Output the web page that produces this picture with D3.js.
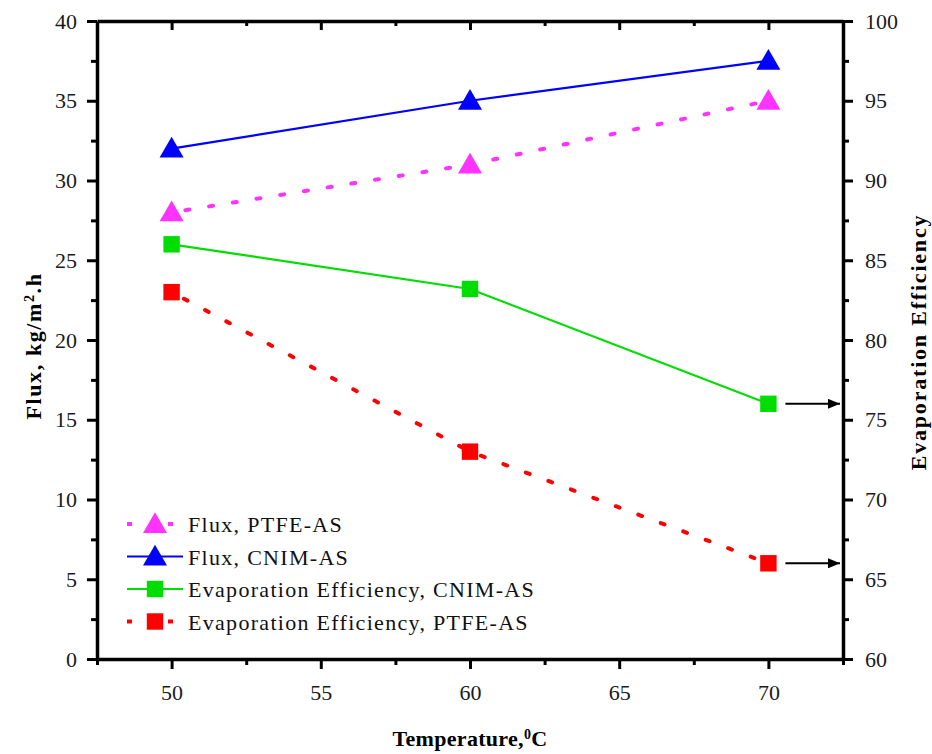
<!DOCTYPE html>
<html>
<head>
<meta charset="utf-8">
<script src="https://cdn.jsdelivr.net/npm/d3@7"></script>
<style>
  body { margin: 0; background: #fff; }
  text { font-family: "Liberation Serif", "Times New Roman", serif; }
</style>
</head>
<body>
<div id="chart"></div>
<script>
// Chart data
const temps = [50, 60, 70];
const fluxPTFE = [28, 31, 35];
const fluxCNIM = [32, 35, 37.5];
const effCNIM = [86, 83.2, 76];
const effPTFE = [83, 73, 66];

const xTicks = [50, 55, 60, 65, 70];
const yLeftTicks = [0, 5, 10, 15, 20, 25, 30, 35, 40];
const yRightTicks = [60, 65, 70, 75, 80, 85, 90, 95, 100];

const width = 932, height = 754;
const margin = { top: 21, right: 89, bottom: 95, left: 97 };
const serif = '"Liberation Serif", "Times New Roman", serif';

const svg = d3.select("#chart").append("svg")
  .attr("width", width)
  .attr("height", height);

const x = d3.scaleLinear().domain([47.5, 72.5]).range([margin.left, width - margin.right]);
const yL = d3.scaleLinear().domain([0, 40]).range([height - margin.bottom, margin.top]);
const yR = d3.scaleLinear().domain([60, 100]).range([height - margin.bottom, margin.top]);

// Axes
function styleAxis(g) {
  g.attr("font-family", serif);
  g.selectAll("path").attr("stroke-width", 3.5);
  g.selectAll("line").attr("stroke-width", 3);
  g.selectAll("text").attr("font-size", 22).attr("fill", "#1a1a1a").attr("font-family", serif);
}

const minorX = [47.5, 52.5, 57.5, 62.5, 67.5, 72.5];
const minorY = d3.range(2.5, 40, 5);
const minorYR = d3.range(62.5, 100, 5);

// bottom
svg.append("g").attr("transform", `translate(0,${yL(0)})`)
  .call(d3.axisBottom(x).tickValues(xTicks).tickSize(10).tickPadding(15).tickSizeOuter(0))
  .call(styleAxis);
svg.append("g").attr("transform", `translate(0,${yL(0)})`)
  .call(d3.axisBottom(x).tickValues(minorX).tickSize(6).tickFormat("").tickSizeOuter(0))
  .call(styleAxis).select("path").remove();

// top (ticks pointing inward)
svg.append("g").attr("transform", `translate(0,${yL(40)})`)
  .call(d3.axisBottom(x).tickValues(xTicks).tickSize(9).tickFormat("").tickSizeOuter(0))
  .call(styleAxis);
svg.append("g").attr("transform", `translate(0,${yL(40)})`)
  .call(d3.axisBottom(x).tickValues(minorX.slice(1, -1)).tickSize(5).tickFormat("").tickSizeOuter(0))
  .call(styleAxis).select("path").remove();

// left
svg.append("g").attr("transform", `translate(${x(47.5)},0)`)
  .call(d3.axisLeft(yL).tickValues(yLeftTicks).tickSize(10).tickPadding(10).tickSizeOuter(0))
  .call(styleAxis);
svg.append("g").attr("transform", `translate(${x(47.5)},0)`)
  .call(d3.axisLeft(yL).tickValues(minorY).tickSize(6).tickFormat("").tickSizeOuter(0))
  .call(styleAxis).select("path").remove();

// right
svg.append("g").attr("transform", `translate(${x(72.5)},0)`)
  .call(d3.axisRight(yR).tickValues(yRightTicks).tickSize(10).tickPadding(12).tickSizeOuter(0))
  .call(styleAxis);
svg.append("g").attr("transform", `translate(${x(72.5)},0)`)
  .call(d3.axisRight(yR).tickValues(minorYR).tickSize(6).tickFormat("").tickSizeOuter(0))
  .call(styleAxis).select("path").remove();

// Axis titles
svg.append("text")
  .attr("transform", `translate(41,${(yL(0) + yL(40)) / 2 + 6}) rotate(-90)`)
  .attr("text-anchor", "middle").attr("font-size", 22).attr("font-weight", "bold")
  .attr("letter-spacing", 1.6)
  .html('Flux, kg/m<tspan baseline-shift="super" font-size="14">2</tspan>.h');

svg.append("text")
  .attr("transform", `translate(926,${(yL(0) + yL(40)) / 2 + 2}) rotate(-90)`)
  .attr("text-anchor", "middle").attr("font-size", 22).attr("font-weight", "bold")
  .attr("letter-spacing", 1.8)
  .text("Evaporation Efficiency");

svg.append("text")
  .attr("x", 470).attr("y", 746)
  .attr("text-anchor", "middle").attr("font-size", 22).attr("font-weight", "bold")
  .attr("letter-spacing", 0.3)
  .html('Temperature,<tspan baseline-shift="super" font-size="14">0</tspan>C');

// Series
const series = [
  { name: "Flux, PTFE-AS", values: fluxPTFE, scale: yL, color: "#ff33ff", dotted: true, marker: "tri" },
  { name: "Flux, CNIM-AS", values: fluxCNIM, scale: yL, color: "#0000ff", dotted: false, marker: "tri" },
  { name: "Evaporation Efficiency, CNIM-AS", values: effCNIM, scale: yR, color: "#00dd00", dotted: false, marker: "sq" },
  { name: "Evaporation Efficiency, PTFE-AS", values: effPTFE, scale: yR, color: "#ff0000", dotted: true, marker: "sq" }
];

const triSym = d3.symbol().type(d3.symbolTriangle).size(250);
const sqSym = d3.symbol().type(d3.symbolSquare).size(270);

series.forEach(s => {
  const line = d3.line().x((d, i) => x(temps[i])).y(d => s.scale(d));
  svg.append("path")
    .datum(s.values)
    .attr("d", line)
    .attr("fill", "none")
    .attr("stroke", s.color)
    .attr("stroke-width", s.dotted ? 4 : 2.2)
    .attr("stroke-linecap", s.dotted ? "round" : "butt")
    .attr("stroke-dasharray", s.dotted ? "4,20" : null)
    .attr("stroke-dashoffset", s.dotted ? -14 : null);
  svg.selectAll(null).data(s.values).enter().append("path")
    .attr("transform", (d, i) => `translate(${x(temps[i])},${s.scale(d) + (s.marker === "tri" ? 2 : 0)})`)
    .attr("d", s.marker === "tri" ? triSym : sqSym)
    .attr("fill", s.color);
});

// Arrows pointing to right axis
svg.append("defs").append("marker")
  .attr("id", "arr").attr("viewBox", "0 0 12 10").attr("refX", 12).attr("refY", 5)
  .attr("markerWidth", 7).attr("markerHeight", 5).attr("markerUnits", "strokeWidth")
  .attr("orient", "auto")
  .append("path").attr("d", "M0,0 L12,5 L0,10 Z").attr("fill", "#000");
[effCNIM, effPTFE].forEach(v => {
  svg.append("line")
    .attr("x1", x(70) + 17).attr("x2", x(72.5) - 3)
    .attr("y1", yR(v[2])).attr("y2", yR(v[2]))
    .attr("stroke", "#000").attr("stroke-width", 2)
    .attr("marker-end", "url(#arr)");
});

// Legend
const legend = svg.append("g").attr("transform", "translate(127,524)");
series.forEach((s, i) => {
  const g = legend.append("g").attr("transform", `translate(0,${i * 32.5})`);
  g.append("line").attr("x1", 0).attr("x2", 56).attr("y1", 0).attr("y2", 0)
    .attr("stroke", s.color)
    .attr("stroke-width", s.dotted ? 4 : 2.2)
    .attr("stroke-dasharray", s.dotted ? "5,36" : null);
  g.append("path").attr("transform", `translate(28,${s.marker === "tri" ? 2 : 0})`)
    .attr("d", s.marker === "tri" ? triSym : sqSym).attr("fill", s.color);
  g.append("text").attr("x", 61).attr("y", 8).attr("font-size", 22).attr("fill", "#111")
    .attr("letter-spacing", 1.3)
    .text(s.name);
});
</script>
</body>
</html>
